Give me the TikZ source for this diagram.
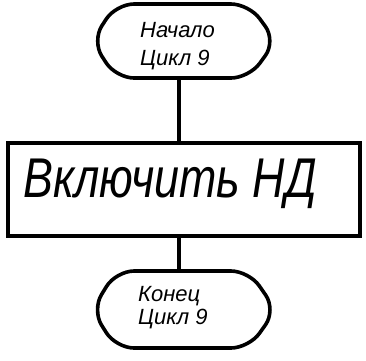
\documentclass[tikz,border=0pt]{standalone}
\usepackage{fontspec}
\setmainfont{Liberation Sans}
\begin{document}
\begin{tikzpicture}[x=1pt,y=-1pt,
  lw/.style={line width=3.6pt},
  term/.style={lw, rounded corners=18pt},
  txts/.style={font=\fontsize{22}{28}\selectfont\itshape, align=left, inner sep=0pt},
  txtb/.style={font=\fontsize{56}{56}\selectfont\itshape, inner sep=0pt}]
\useasboundingbox (0,0) rectangle (366,360);
% top terminal
\draw[term] (116,4) -- (249,4) -- (276,41) -- (249,78) -- (116,78) -- (92,41) -- cycle;
\coordinate (t) at (179,78);
\node[txts, anchor=west] (tt) at (140,46) {Начало\\Цикл 9};
% process box
\draw[lw] (8,143) rectangle (360,236);
\coordinate (pt) at (179,143);
\coordinate (pb) at (179,236);
\node[txtb] (pp) at (170,184) {\scalebox{0.8}[1]{Включить НД}};
% bottom terminal
\draw[term] (116,271) -- (249,271) -- (276,310) -- (249,348) -- (116,348) -- (92,310) -- cycle;
\coordinate (b) at (179,271);
\node[txts, anchor=west, font=\fontsize{22}{23}\selectfont\itshape] (bt) at (138,308) {Конец\\Цикл 9};
% connectors
\draw[lw] (t) -- (pt);
\draw[lw] (pb) -- (b);
\end{tikzpicture}
\end{document}
